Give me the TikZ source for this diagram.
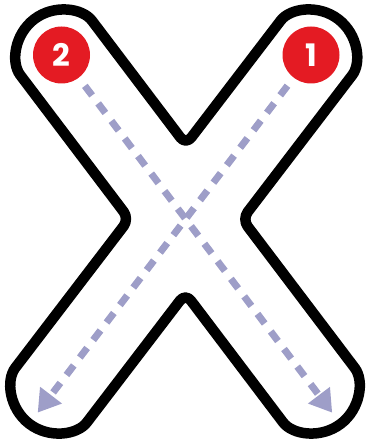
\documentclass[tikz,border=0pt]{standalone}
\usepackage{fontspec}
\usetikzlibrary{calc}
\usetikzlibrary{arrows.meta}
\newfontfamily\numfont{Poppins}
\definecolor{badgered}{RGB}{228,27,35}
\definecolor{routeblue}{RGB}{158,158,200}

\begin{document}
\begin{tikzpicture}[x=1pt,y=-1pt,
  badge/.style={circle, fill=badgered, minimum size=57pt, inner sep=0pt,
    text=white, font=\numfont\bfseries\fontsize{31}{31}\selectfont},
  route/.style={routeblue, line width=7pt, dash pattern=on 12pt off 10pt,
    -{Triangle[length=22pt,width=26pt]}, shorten <=10pt},
  letter/.style={black, line width=10.5pt, line join=round, rounded corners=9pt}]

\useasboundingbox (0,0) rectangle (368,446);

%---------------------------------------
% Lobe centres and half width of a stroke
%---------------------------------------
\def\w{45}
\coordinate (P1) at (61.5,55);   % top left
\coordinate (P2) at (311,55);    % top right
\coordinate (P3) at (56.5,388);  % bottom left
\coordinate (P4) at (313.5,388); % bottom right

\pgfmathsetmacro\aA{atan2(388-55,313.5-61.5)} % P1 -> P4
\pgfmathsetmacro\aB{atan2(388-55,56.5-311)}   % P2 -> P3

% edges of the two strokes
\coordinate (A1l) at ($(P1)+(\aA+90:\w)$);
\coordinate (A1u) at ($(P1)+(\aA-90:\w)$);
\coordinate (A4l) at ($(P4)+(\aA+90:\w)$);
\coordinate (A4u) at ($(P4)+(\aA-90:\w)$);
\coordinate (B2u) at ($(P2)+(\aB+90:\w)$);
\coordinate (B2r) at ($(P2)+(\aB-90:\w)$);
\coordinate (B3u) at ($(P3)+(\aB+90:\w)$);
\coordinate (B3r) at ($(P3)+(\aB-90:\w)$);

% notches
\coordinate (Nt) at (intersection of A1u--A4u and B2u--B3u);
\coordinate (Nr) at (intersection of A1u--A4u and B2r--B3r);
\coordinate (Nb) at (intersection of A1l--A4l and B2r--B3r);
\coordinate (Nl) at (intersection of A1l--A4l and B2u--B3u);
\coordinate (Mstart) at ($(Nl)!0.5!(A1l)$);

%====================================================
% Letter X outline
%====================================================
\draw[letter] (Mstart) -- (A1l)
  arc[start angle=\aA+90, end angle=\aA+270, radius=\w] -- (Nt) -- (B2u)
  arc[start angle=\aB+90, end angle=\aB+270, radius=\w] -- (Nr) -- (A4u)
  arc[start angle=\aA-90, end angle=\aA+90, radius=\w] -- (Nb) -- (B3r)
  arc[start angle=\aB-90, end angle=\aB+90, radius=\w] -- (Nl) -- cycle;

% ---- Badges ----
\node[badge] (n2) at (P1) {2};
\node[badge] (n1) at (P2) {1};

% ---- Dashed routes ----
\coordinate (end2) at ($(P4)+(\aA:31)$);
\coordinate (end1) at ($(P3)+(\aB:31)$);
\draw[route] (n2) -- (end2);
\draw[route] (n1) -- (end1);

\end{tikzpicture}
\end{document}
